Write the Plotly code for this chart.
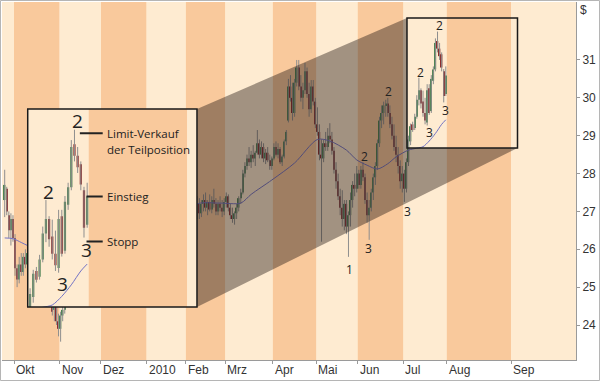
import plotly.graph_objects as go

# ---------------- data ----------------
month_labels = ["Okt", "Nov", "Dez", "2010", "Feb", "Mrz", "Apr", "Mai", "Jun", "Jul", "Aug", "Sep"]
month_start = [0, 22, 42, 64, 83, 102, 125, 146, 166, 188, 209, 240]   # trading-day slot of month start
price_ticks = [24, 25, 26, 27, 28, 29, 30, 31]
first_slot = -5

opens = [
    27.3, 27.6, 26.9, 26.5, 26.8,
    26.3, 25.5, 25.2, 25.6, 25.4, 25.8, 25.6, 25.9, 26.2, 26.5, 26.3, 26.6, 26.9, 26.6, 26.1, 25.7, 25.4, 25.0, 24.8, 24.4, 24.5, 24.1,
    23.9, 24.25, 24.4, 24.7, 24.9, 25.2, 25.1, 25.5, 25.7, 25.6, 25.9, 25.8, 26.1, 25.9, 25.7, 25.9, 26.1, 26.3, 26.2, 25.9,
    26.1, 26.4, 26.3, 26.1, 26.3, 26.6, 26.5, 26.8, 26.6, 26.4, 26.6, 26.9, 27.1, 27.0, 27.1, 27.3, 27.2, 27.3, 27.5, 27.4, 27.2, 27.3,
    27.2, 27.5, 27.6, 27.4, 27.5, 27.8, 27.6, 27.4, 27.6, 27.8, 27.7, 27.3, 27.0, 26.8, 27.0, 26.8, 26.6, 26.8, 26.6,
    26.5, 26.8, 26.9, 26.6, 26.5, 26.8, 27.2, 26.95, 27.2, 27.3, 27.1, 27.25, 27.05, 27.3, 27.2, 27.0, 27.2, 27.1, 27.0,
    27.25, 27.4, 27.1, 26.9, 26.8, 26.95, 27.1, 27.35, 27.5, 28.0, 28.2, 28.4, 28.3, 28.5, 28.4, 28.55, 28.8, 28.5, 28.7, 28.4, 28.55, 28.35, 28.2,
    28.4, 28.7, 28.5, 28.65, 28.3, 28.45, 28.85, 29.4, 30.3, 30.0, 29.6, 30.4, 30.8, 30.3, 30.0, 30.2, 30.7, 30.1, 29.7, 30.3, 29.9,
    29.3, 29.1, 28.5, 28.4, 28.8, 28.7, 29.0, 28.9, 28.6, 28.1, 27.8, 27.4, 27.1, 26.8, 27.2, 26.6, 26.9, 27.3, 27.7, 27.6,
    28.0, 27.7, 28.1, 27.9, 27.3, 26.9, 27.1, 27.5, 27.9, 28.2, 28.8, 29.4, 29.6, 29.8, 29.85, 29.6, 29.3, 29.0, 28.7, 28.5, 28.2, 27.8,
    28.0, 27.6, 28.3, 28.85, 29.3, 29.2, 29.5, 29.95, 30.2, 29.9, 29.6, 29.35, 30.25, 29.65, 30.45, 30.75, 31.5, 31.3, 31.15, 30.7, 30.1,
]
highs = [
    28.1, 27.65, 27.0, 26.95, 26.9,
    26.4, 25.6, 25.8, 25.9, 25.9, 26.0, 26.0, 26.3, 26.6, 26.8, 26.7, 27.0, 27.1, 26.7, 26.3, 25.9, 25.6, 25.3, 24.9, 24.6, 24.55, 24.3,
    24.35, 24.5, 24.8, 25.0, 25.3, 25.4, 25.6, 25.8, 25.9, 26.0, 26.1, 26.2, 26.3, 26.1, 26.0, 26.2, 26.4, 26.5, 26.3, 26.2,
    26.5, 26.6, 26.5, 26.4, 26.7, 26.8, 26.9, 27.0, 26.8, 26.7, 27.0, 27.2, 27.3, 27.2, 27.4, 27.5, 27.4, 27.6, 27.7, 27.6, 27.4, 27.5,
    27.6, 27.8, 27.7, 27.6, 27.9, 28.0, 27.8, 27.7, 27.9, 28.1, 27.8, 27.5, 27.2, 27.1, 27.2, 27.0, 26.9, 27.0, 26.8,
    26.9, 27.1, 27.0, 26.8, 26.9, 27.4, 27.35, 27.3, 27.45, 27.5, 27.3, 27.45, 27.4, 27.6, 27.35, 27.3, 27.4, 27.3, 27.35,
    27.5, 27.45, 27.2, 27.1, 27.0, 27.2, 27.4, 27.6, 28.1, 28.3, 28.5, 28.7, 28.6, 28.75, 28.6, 29.15, 28.9, 28.85, 28.8, 28.65, 28.7, 28.5, 28.45,
    28.8, 28.85, 28.8, 28.7, 28.5, 28.9, 29.15, 30.5, 30.6, 30.4, 30.5, 31.0, 31.0, 30.6, 30.4, 30.92, 30.8, 30.4, 30.47, 30.47, 30.0,
    29.75, 29.3, 28.9, 28.9, 29.1, 29.2, 29.33, 29.1, 28.7, 28.3, 28.0, 27.6, 27.56, 27.3, 27.3, 27.0, 27.5, 27.8, 28.0, 28.2,
    28.1, 28.2, 28.3, 28.0, 27.5, 27.3, 27.6, 28.0, 28.3, 28.9, 29.5, 29.8, 29.9, 29.95, 30.0, 29.8, 29.5, 29.3, 29.0, 28.7, 28.35, 28.2,
    28.1, 28.4, 29.0, 29.32, 29.37, 29.58, 30.07, 30.53, 30.25, 30.19, 30.0, 30.36, 30.36, 30.6, 30.83, 31.57, 31.75, 31.45, 31.2, 30.76, 30.83,
]
lows = [
    26.85, 26.9, 26.3, 26.1, 26.2,
    25.3, 25.0, 25.1, 25.3, 25.3, 25.5, 25.4, 25.8, 26.0, 26.2, 26.1, 26.4, 26.5, 26.0, 25.6, 25.2, 24.9, 24.6, 24.25, 24.1, 24.0, 23.7,
    23.56, 24.1, 24.3, 24.6, 24.8, 25.0, 25.0, 25.3, 25.4, 25.5, 25.6, 25.7, 25.8, 25.6, 25.5, 25.8, 26.0, 26.0, 25.7, 25.8,
    26.0, 26.2, 26.0, 25.9, 26.2, 26.4, 26.4, 26.5, 26.3, 26.3, 26.5, 26.8, 26.9, 26.8, 27.0, 27.1, 27.0, 27.2, 27.3, 27.1, 27.0, 27.1,
    27.1, 27.3, 27.3, 27.2, 27.4, 27.5, 27.3, 27.2, 27.5, 27.6, 27.2, 26.9, 26.7, 26.6, 26.7, 26.5, 26.4, 26.5, 26.3,
    26.4, 26.6, 26.5, 26.3, 26.4, 26.25, 26.8, 26.85, 27.0, 27.0, 26.9, 27.0, 26.95, 27.1, 26.9, 26.9, 27.0, 26.85, 26.9,
    27.1, 27.0, 26.8, 26.7, 26.65, 26.8, 27.0, 27.2, 27.45, 27.9, 28.1, 28.2, 28.15, 28.3, 28.2, 28.5, 28.4, 28.4, 28.3, 28.25, 28.3, 28.1, 28.1,
    28.35, 28.45, 28.4, 28.25, 28.2, 28.4, 28.75, 29.35, 29.9, 29.4, 29.5, 30.3, 30.2, 29.9, 29.7, 30.1, 30.0, 29.5, 29.6, 29.8, 29.2,
    29.0, 28.35, 26.2, 28.3, 28.6, 28.6, 28.8, 28.5, 28.0, 27.6, 27.3, 26.9, 26.6, 26.5, 26.4, 25.8, 26.6, 27.1, 27.4, 27.5,
    27.6, 27.6, 27.8, 27.2, 26.7, 26.25, 27.0, 27.3, 27.7, 28.1, 28.7, 29.2, 29.3, 29.5, 29.5, 29.2, 28.9, 28.6, 28.3, 28.0, 27.6, 27.5,
    27.25, 27.5, 28.2, 28.75, 29.1, 29.15, 29.45, 29.8, 29.72, 29.5, 29.3, 29.27, 29.55, 29.6, 30.36, 30.7, 31.2, 31.0, 30.7, 29.88, 30.05,
]
closes = [
    27.7, 27.0, 26.5, 26.8, 26.3,
    25.5, 25.2, 25.6, 25.4, 25.8, 25.6, 25.9, 26.2, 26.5, 26.3, 26.6, 26.9, 26.6, 26.1, 25.7, 25.4, 25.0, 24.8, 24.35, 24.5, 24.1, 23.9,
    24.25, 24.4, 24.7, 24.9, 25.2, 25.1, 25.5, 25.7, 25.6, 25.9, 25.8, 26.1, 25.9, 25.7, 25.9, 26.1, 26.3, 26.2, 25.9, 26.1,
    26.4, 26.3, 26.1, 26.3, 26.6, 26.5, 26.8, 26.6, 26.4, 26.6, 26.9, 27.1, 27.0, 27.1, 27.3, 27.2, 27.3, 27.5, 27.4, 27.2, 27.3, 27.2,
    27.5, 27.6, 27.4, 27.5, 27.8, 27.6, 27.4, 27.6, 27.8, 27.7, 27.3, 27.0, 26.8, 27.0, 26.8, 26.6, 26.8, 26.6, 26.5,
    26.8, 26.9, 26.6, 26.5, 26.8, 27.2, 26.95, 27.2, 27.3, 27.1, 27.25, 27.05, 27.3, 27.2, 27.0, 27.2, 27.1, 27.0, 27.25,
    27.4, 27.1, 26.9, 26.8, 26.95, 27.1, 27.35, 27.5, 28.0, 28.2, 28.4, 28.3, 28.5, 28.4, 28.55, 28.8, 28.5, 28.7, 28.4, 28.55, 28.35, 28.2, 28.4,
    28.7, 28.5, 28.65, 28.3, 28.45, 28.85, 29.1, 30.3, 30.0, 29.6, 30.4, 30.8, 30.3, 30.0, 30.2, 30.7, 30.1, 29.7, 30.3, 29.9, 29.3,
    29.1, 28.5, 28.4, 28.8, 28.7, 29.0, 28.9, 28.6, 28.1, 27.8, 27.4, 27.1, 26.8, 27.2, 26.6, 26.9, 27.3, 27.7, 27.6, 28.0,
    27.7, 28.1, 27.9, 27.3, 26.9, 27.1, 27.5, 27.9, 28.2, 28.8, 29.4, 29.6, 29.8, 29.85, 29.6, 29.3, 29.0, 28.7, 28.5, 28.2, 27.8, 28.0,
    27.6, 28.3, 28.9, 29.25, 29.15, 29.5, 29.95, 30.2, 29.85, 29.6, 29.4, 30.2, 29.6, 30.5, 30.75, 31.45, 31.3, 31.1, 30.8, 30.05, 30.59,
]

# moving average
ma_slot = [-5, -1, 3, 6, 20, 40, 60, 80, 88, 99, 109, 114, 124, 135, 146, 152, 160, 165,
           170, 175, 180, 184, 190, 194, 197, 200, 203, 206, 208]
ma_value = [26.30, 26.28, 26.18, 26.10, 25.80, 25.50, 25.90, 26.80, 27.20, 27.22, 27.22, 27.45,
            27.83, 28.28, 28.90, 28.86, 28.62, 28.36, 28.22, 28.12, 28.26, 28.44, 28.62, 28.67,
            28.71, 28.86, 29.06, 29.30, 29.42]

# wave count labels
wave_text = ["2", "2", "1", "3", "3", "2", "2", "3", "3"]
wave_slot = [180.2, 168.5, 161.7, 170.9, 189.4, 205.0, 195.8, 200.2, 207.8]
wave_price = [30.16, 28.46, 25.47, 26.03, 27.01, 31.90, 30.67, 29.08, 29.67]

# call-outs in the magnified box
callout_text = ["Limit-Verkauf", "der Teilposition", "Einstieg", "Stopp"]
callout_price = [31.69, 31.40, 30.59, 29.81]
callout_line = [True, False, True, True]

slots = list(range(first_slot, first_slot + len(closes)))

# ---------------- geometry / style ----------------
X_RANGE = [-6.30, 270.87]
Y_RANGE = [23.076, 32.531]
ZOOM_X = [189.26, 242.62]
ZOOM_Y = [28.675, 32.109]
INSET_XD = [0.0448, 0.3397]
INSET_YD = [0.148, 0.7011]

LIGHT = "#FEEBD1"
DARK = "#F9C99C"
UP = "#4D8452"
DOWN = "#8C2D2D"
WICK = "#8E8E8E"
MA_C = "#7272C4"
TXT = "#222222"
AX = "#9a9a9a"

fig = go.Figure()


def add_price(xa, ya):
    wx, wy = [], []
    for s, h, l in zip(slots, highs, lows):
        wx += [s, s, None]
        wy += [l, h, None]
    fig.add_trace(go.Scatter(x=wx, y=wy, mode="lines", line=dict(color=WICK, width=1),
                             xaxis=xa, yaxis=ya, hoverinfo="skip", showlegend=False))
    base = [min(o, c) for o, c in zip(opens, closes)]
    size = [abs(c - o) for o, c in zip(opens, closes)]
    cols = [UP if c >= o else DOWN for o, c in zip(opens, closes)]
    fig.add_trace(go.Bar(x=slots, y=size, base=base, width=0.7,
                         marker=dict(color=cols, line=dict(width=0)),
                         xaxis=xa, yaxis=ya, showlegend=False))
    fig.add_trace(go.Scatter(x=ma_slot, y=ma_value, mode="lines",
                             line=dict(color=MA_C, width=1, shape="spline", smoothing=0.8),
                             xaxis=xa, yaxis=ya, hoverinfo="skip", showlegend=False))


add_price("x", "y")
add_price("x2", "y2")

# month stripes (main + magnified box)
bounds = [X_RANGE[0] - 5] + [m - 0.5 for m in month_start] + [X_RANGE[1] + 5]
for i in range(len(bounds) - 1):
    col = LIGHT if i % 2 == 0 else DARK
    for xr, yr, yrng in (("x", "y", Y_RANGE), ("x2", "y2", ZOOM_Y)):
        fig.add_shape(type="rect", xref=xr, yref=yr, x0=bounds[i], x1=bounds[i + 1],
                      y0=yrng[0] - 1, y1=yrng[1] + 1, fillcolor=col, line_width=0, layer="below")


def px2x(p):
    return X_RANGE[0] + p * (X_RANGE[1] - X_RANGE[0])


def py2y(p):
    return Y_RANGE[0] + p * (Y_RANGE[1] - Y_RANGE[0])


bx1 = px2x(INSET_XD[1])
by0 = py2y(INSET_YD[0])
by1 = py2y(INSET_YD[1])
shadow = (f"M{bx1},{by1} L{ZOOM_X[0]},{ZOOM_Y[1]} L{ZOOM_X[0]},{ZOOM_Y[0]} "
          f"L{ZOOM_X[1]},{ZOOM_Y[0]} L{bx1},{by0} Z")
fig.add_shape(type="path", path=shadow, xref="x", yref="y",
              fillcolor="rgba(35,25,20,0.42)", line_width=0, layer="above")

# boxes
fig.add_shape(type="rect", xref="x", yref="y", x0=ZOOM_X[0], x1=ZOOM_X[1], y0=ZOOM_Y[0], y1=ZOOM_Y[1],
              line=dict(color="#1a1a1a", width=1.5), layer="above")
fig.add_shape(type="rect", xref="paper", yref="paper", x0=INSET_XD[0], x1=INSET_XD[1],
              y0=INSET_YD[0], y1=INSET_YD[1], line=dict(color="#1a1a1a", width=1.5), layer="above")

# outer border of the picture
fig.add_shape(type="rect", xref="paper", yref="paper", x0=-1.5 / 574, x1=597.5 / 574,
              y0=-20.5 / 358, y1=359.5 / 358, line=dict(color="#b5b5b5", width=1), layer="above")

# month labels
for lab, m in zip(month_labels, month_start):
    fig.add_annotation(x=m - 0.5, y=0, xref="x", yref="paper", text=lab, showarrow=False,
                       xanchor="left", yanchor="top", xshift=0, yshift=-1,
                       font=dict(family="Liberation Sans, Arial", size=12, color="#333"))
fig.add_annotation(x=1, y=1, xref="paper", yref="paper", text="$", showarrow=False,
                   xanchor="left", yanchor="top", xshift=2, yshift=1,
                   font=dict(family="Liberation Sans, Arial", size=12, color="#333"))

# wave labels
for t, s, p in zip(wave_text, wave_slot, wave_price):
    fig.add_annotation(x=s, y=p, xref="x", yref="y", text=t, showarrow=False,
                       font=dict(family="Open Sans", size=12, color=TXT))
    if ZOOM_X[0] < s < ZOOM_X[1] and ZOOM_Y[0] < p < ZOOM_Y[1]:
        fig.add_annotation(x=s, y=p, xref="x2", yref="y2", text=t, showarrow=False,
                           font=dict(family="Open Sans", size=19, color=TXT))

# call-outs
for t, p, ln in zip(callout_text, callout_price, callout_line):
    if ln:
        x_start = 205.7 if t == "Limit-Verkauf" else 207.8
        fig.add_shape(type="line", xref="x2", yref="y2", x0=x_start, x1=212.9, y0=p, y1=p,
                      line=dict(color=TXT, width=2), layer="above")
    fig.add_annotation(x=213.6, y=p, xref="x2", yref="y2", text=t, showarrow=False,
                       xanchor="left", yanchor="middle",
                       font=dict(family="Open Sans", size=11.5, color=TXT))

fig.update_layout(
    width=600, height=381, margin=dict(l=2, r=24, t=2, b=21),
    paper_bgcolor="white", plot_bgcolor=LIGHT, barmode="overlay", showlegend=False,
    xaxis=dict(range=X_RANGE, showgrid=False, zeroline=False, showline=True, linecolor=AX,
               ticks="outside", ticklen=3, tickcolor=AX, tickvals=[m - 0.5 for m in month_start],
               showticklabels=False, fixedrange=True),
    yaxis=dict(range=Y_RANGE, side="right", showgrid=False, zeroline=False, showline=True,
               linecolor=AX, ticks="outside", ticklen=3, tickcolor=AX, tickvals=price_ticks,
               tickfont=dict(family="Liberation Sans, Arial", size=12, color="#333"), fixedrange=True),
    xaxis2=dict(domain=INSET_XD, range=ZOOM_X, visible=False, anchor="y2", fixedrange=True),
    yaxis2=dict(domain=INSET_YD, range=ZOOM_Y, visible=False, anchor="x2", fixedrange=True),
)

fig.write_html("out.html", config={"displayModeBar": False},
               post_script="document.body.style.margin='0';document.body.style.overflow='hidden';")
